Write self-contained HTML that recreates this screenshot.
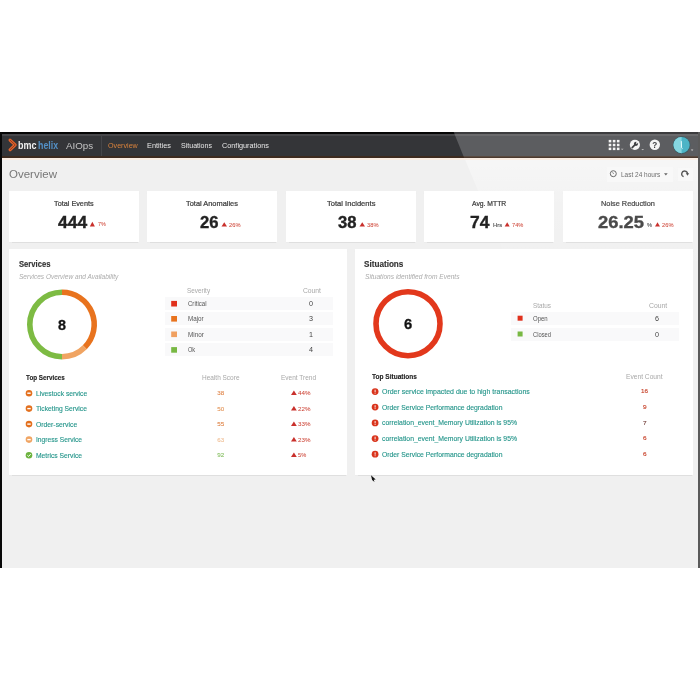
<!DOCTYPE html>
<html><head><meta charset="utf-8">
<style>
*{margin:0;padding:0;box-sizing:border-box}
html,body{width:700px;height:700px;background:#fff;overflow:hidden;position:relative;font-family:"Liberation Sans",sans-serif}
.r{position:absolute}
.t{position:absolute;white-space:nowrap;line-height:1;transform-origin:0 0}
</style></head><body>
<div id="w" style="position:absolute;left:0;top:0;width:700px;height:700px;filter:blur(0.35px)">
<div class="r" style="left:0px;top:132px;width:700px;height:436px;background:#f0f0f0;"></div>
<div class="r" style="left:0;top:157px;width:700px;height:120px;background:linear-gradient(to bottom,rgba(255,255,255,0.45),rgba(255,255,255,0.15) 40%,rgba(255,255,255,0) 100%);clip-path:polygon(464px 0,700px 0,700px 120px,514px 120px)"></div>
<div class="r" style="left:0px;top:132px;width:700px;height:2px;background:#050505;"></div>
<div class="r" style="left:0px;top:134px;width:700px;height:2px;background:#47474a;"></div>
<div class="r" style="left:0px;top:136px;width:700px;height:19.5px;background:#343538;"></div>
<div class="r" style="left:0px;top:155.5px;width:700px;height:2px;background:#3e2b1f;"></div>
<div class="r" style="left:0px;top:157.5px;width:700px;height:2.5px;background:#fbeee4;"></div>
<div class="r" style="left:0;top:132px;width:700px;height:25.5px;clip-path:polygon(453.7px 0,700px 0,700px 25.5px,464px 25.5px)"><div class="r" style="left:0;top:0;width:700px;height:2px;background:#3c3c3e"></div><div class="r" style="left:0;top:2px;width:700px;height:2px;background:#6a6a6c"></div><div class="r" style="left:0;top:4px;width:700px;height:19.5px;background:#5c5d60"></div><div class="r" style="left:0;top:23.5px;width:700px;height:2px;background:#5a4a40"></div></div>
<div class="r" style="left:0px;top:132px;width:2px;height:436px;background:#080808;"></div>
<div class="r" style="left:698px;top:132px;width:2px;height:436px;background:#5a5a5a;"></div>
<div class="t" style="left:18.30px;top:139.80px;font-size:10.6px;color:#f0f0f0;font-weight:bold;transform:scaleX(0.849);">bmc</div>
<div class="t" style="left:37.60px;top:139.80px;font-size:10.6px;color:#5390c6;font-weight:bold;transform:scaleX(0.832);">helix</div>
<div class="t" style="left:65.60px;top:140.60px;font-size:9.5px;color:#c4c4c4;transform:scaleX(1.030);">AIOps</div>
<div class="r" style="left:101px;top:136px;width:1px;height:19.5px;background:#454649;"></div>
<div class="t" style="left:107.90px;top:143.00px;font-size:6.5px;color:#d9823c;transform:scaleX(1.099);">Overview</div>
<div class="t" style="left:147.00px;top:143.00px;font-size:6.5px;color:#e6e6e6;transform:scaleX(1.126);">Entities</div>
<div class="t" style="left:181.00px;top:143.00px;font-size:6.5px;color:#e6e6e6;transform:scaleX(1.086);">Situations</div>
<div class="t" style="left:222.00px;top:143.00px;font-size:6.5px;color:#e6e6e6;transform:scaleX(1.121);">Configurations</div>
<div class="t" style="left:8.60px;top:169.40px;font-size:11.8px;color:#777777;transform:scaleX(0.975);">Overview</div>
<div class="r" style="left:606.5px;top:167.3px;width:66.5px;height:14.5px;background:#f8f8f8;"></div>
<div class="t" style="left:620.50px;top:171.50px;font-size:6.8px;color:#6e6e6e;transform:scaleX(0.954);">Last 24 hours</div>
<div class="r" style="left:677.7px;top:167.6px;width:15.2px;height:13.2px;background:#f8f8f8;"></div>
<div class="r" style="left:9px;top:191px;width:130px;height:51.3px;background:#ffffff;box-shadow:0 0.7px 0.8px rgba(0,0,0,0.07)"></div>
<div class="r" style="left:147.4px;top:191px;width:130px;height:51.3px;background:#ffffff;box-shadow:0 0.7px 0.8px rgba(0,0,0,0.07)"></div>
<div class="r" style="left:285.8px;top:191px;width:130px;height:51.3px;background:#ffffff;box-shadow:0 0.7px 0.8px rgba(0,0,0,0.07)"></div>
<div class="r" style="left:424.2px;top:191px;width:130px;height:51.3px;background:#ffffff;box-shadow:0 0.7px 0.8px rgba(0,0,0,0.07)"></div>
<div class="r" style="left:562.6px;top:191px;width:130px;height:51.3px;background:#ffffff;box-shadow:0 0.7px 0.8px rgba(0,0,0,0.07)"></div>
<div class="t" style="left:54.00px;top:199.80px;font-size:7.2px;color:#3c3c3c;-webkit-text-stroke:0.22px #3c3c3c;transform:scaleX(1.012);">Total Events</div>
<div class="t" style="left:57.80px;top:215.00px;font-size:16.8px;color:#222;font-weight:bold;transform:scaleX(1.038);-webkit-text-stroke:0.35px currentColor">444</div>
<div class="t" style="left:97.80px;top:221.40px;font-size:6.2px;color:#cf4a3c;transform:scaleX(0.871);-webkit-text-stroke:0.05px currentColor">7%</div>
<div class="t" style="left:186.20px;top:199.70px;font-size:7.2px;color:#3c3c3c;-webkit-text-stroke:0.22px #3c3c3c;transform:scaleX(1.031);">Total Anomalies</div>
<div class="t" style="left:200.00px;top:215.00px;font-size:16.8px;color:#222;font-weight:bold;transform:scaleX(0.990);-webkit-text-stroke:0.35px currentColor">26</div>
<div class="t" style="left:229.00px;top:221.50px;font-size:6.2px;color:#cf4a3c;transform:scaleX(0.927);-webkit-text-stroke:0.05px currentColor">26%</div>
<div class="t" style="left:327.00px;top:199.70px;font-size:7.2px;color:#3c3c3c;-webkit-text-stroke:0.22px #3c3c3c;transform:scaleX(1.054);">Total Incidents</div>
<div class="t" style="left:337.50px;top:215.00px;font-size:16.8px;color:#222;font-weight:bold;transform:scaleX(0.990);-webkit-text-stroke:0.35px currentColor">38</div>
<div class="t" style="left:367.00px;top:221.50px;font-size:6.2px;color:#cf4a3c;transform:scaleX(0.927);-webkit-text-stroke:0.05px currentColor">38%</div>
<div class="t" style="left:472.00px;top:199.70px;font-size:7.2px;color:#3c3c3c;-webkit-text-stroke:0.22px #3c3c3c;transform:scaleX(0.946);">Avg. MTTR</div>
<div class="t" style="left:470.40px;top:215.00px;font-size:16.8px;color:#222;font-weight:bold;transform:scaleX(1.038);-webkit-text-stroke:0.35px currentColor">74</div>
<div class="t" style="left:492.60px;top:222.50px;font-size:5.8px;color:#555;transform:scaleX(1.009);-webkit-text-stroke:0.15px currentColor">Hrs</div>
<div class="t" style="left:512.00px;top:221.50px;font-size:6.2px;color:#cf4a3c;transform:scaleX(0.919);-webkit-text-stroke:0.05px currentColor">74%</div>
<div class="t" style="left:601.00px;top:199.70px;font-size:7.2px;color:#4a4a4a;-webkit-text-stroke:0.22px #4a4a4a;transform:scaleX(1.022);">Noise Reduction</div>
<div class="t" style="left:598.00px;top:215.00px;font-size:16.8px;color:#4a4a4a;font-weight:bold;transform:scaleX(1.094);-webkit-text-stroke:0.35px currentColor">26.25</div>
<div class="t" style="left:647.00px;top:222.50px;font-size:5.8px;color:#666;transform:scaleX(0.970);-webkit-text-stroke:0.15px currentColor">%</div>
<div class="t" style="left:662.00px;top:221.50px;font-size:6.2px;color:#cf4a3c;transform:scaleX(0.927);-webkit-text-stroke:0.05px currentColor">26%</div>
<div class="r" style="left:8.6px;top:249px;width:338px;height:226.3px;background:#ffffff;box-shadow:0 0.7px 0.8px rgba(0,0,0,0.07)"></div>
<div class="r" style="left:355px;top:249px;width:337.5px;height:226.3px;background:#ffffff;box-shadow:0 0.7px 0.8px rgba(0,0,0,0.07)"></div>
<div class="t" style="left:18.70px;top:260.10px;font-size:8.6px;color:#333;font-weight:bold;transform:scaleX(0.890);-webkit-text-stroke:0.15px currentColor">Services</div>
<div class="t" style="left:19.00px;top:272.90px;font-size:7px;color:#ababab;font-style:italic;transform:scaleX(0.935);">Services Overview and Availability</div>
<div class="t" style="left:58.00px;top:317.00px;font-size:15px;color:#111;font-weight:bold;transform:scaleX(0.959);-webkit-text-stroke:0.3px currentColor">8</div>
<div class="t" style="left:187.20px;top:287.80px;font-size:6.6px;color:#a8a8a8;transform:scaleX(0.969);">Severity</div>
<div class="t" style="left:302.90px;top:287.80px;font-size:6.6px;color:#a8a8a8;transform:scaleX(1.022);">Count</div>
<div class="r" style="left:165px;top:296.9px;width:167.8px;height:13.2px;background:#f9f9fa;"></div>
<div class="t" style="left:187.50px;top:300.90px;font-size:6.5px;color:#555;transform:scaleX(0.931);">Critical</div>
<div class="t" style="left:308.60px;top:300.90px;font-size:6.4px;color:#444;transform:scaleX(1.124);">0</div>
<div class="r" style="left:165px;top:312px;width:167.8px;height:13.2px;background:#f9f9fa;"></div>
<div class="t" style="left:187.50px;top:316.00px;font-size:6.5px;color:#555;transform:scaleX(0.966);">Major</div>
<div class="t" style="left:308.60px;top:316.00px;font-size:6.4px;color:#444;transform:scaleX(1.124);">3</div>
<div class="r" style="left:165px;top:327.5px;width:167.8px;height:13.2px;background:#f9f9fa;"></div>
<div class="t" style="left:187.50px;top:331.50px;font-size:6.5px;color:#555;transform:scaleX(0.978);">Minor</div>
<div class="t" style="left:308.60px;top:331.50px;font-size:6.4px;color:#444;transform:scaleX(1.124);">1</div>
<div class="r" style="left:165px;top:343.1px;width:167.8px;height:13.2px;background:#f9f9fa;"></div>
<div class="t" style="left:187.50px;top:347.10px;font-size:6.5px;color:#555;transform:scaleX(0.865);">Ok</div>
<div class="t" style="left:308.60px;top:347.10px;font-size:6.4px;color:#444;transform:scaleX(1.124);">4</div>
<div class="t" style="left:26.00px;top:375.00px;font-size:6.8px;color:#222;font-weight:bold;transform:scaleX(0.928);-webkit-text-stroke:0.12px currentColor">Top Services</div>
<div class="t" style="left:201.80px;top:375.00px;font-size:6.8px;color:#a8a8a8;transform:scaleX(0.954);">Health Score</div>
<div class="t" style="left:281.00px;top:375.00px;font-size:6.8px;color:#a8a8a8;transform:scaleX(0.955);">Event Trend</div>
<div class="t" style="left:36.00px;top:390.60px;font-size:6.8px;color:#24958a;transform:scaleX(0.989);-webkit-text-stroke:0.12px currentColor">Livestock service</div>
<div class="t" style="left:217.20px;top:390.10px;font-size:6.2px;color:#e0884e;-webkit-text-stroke:0.12px currentColor">38</div>
<div class="t" style="left:298.10px;top:390.10px;font-size:6.2px;color:#cc4436;transform:scaleX(1.008);-webkit-text-stroke:0.04px currentColor">44%</div>
<div class="t" style="left:36.00px;top:406.00px;font-size:6.8px;color:#24958a;transform:scaleX(0.988);-webkit-text-stroke:0.12px currentColor">Ticketing Service</div>
<div class="t" style="left:217.20px;top:405.50px;font-size:6.2px;color:#e4985e;-webkit-text-stroke:0.12px currentColor">50</div>
<div class="t" style="left:298.10px;top:405.50px;font-size:6.2px;color:#cc4436;transform:scaleX(1.008);-webkit-text-stroke:0.04px currentColor">22%</div>
<div class="t" style="left:36.00px;top:421.50px;font-size:6.8px;color:#24958a;-webkit-text-stroke:0.12px currentColor">Order-service</div>
<div class="t" style="left:217.20px;top:421.00px;font-size:6.2px;color:#e0884e;-webkit-text-stroke:0.12px currentColor">55</div>
<div class="t" style="left:298.10px;top:421.00px;font-size:6.2px;color:#cc4436;transform:scaleX(1.008);-webkit-text-stroke:0.04px currentColor">33%</div>
<div class="t" style="left:36.00px;top:437.00px;font-size:6.8px;color:#24958a;transform:scaleX(0.982);-webkit-text-stroke:0.12px currentColor">Ingress Service</div>
<div class="t" style="left:217.20px;top:436.50px;font-size:6.2px;color:#f0c098;-webkit-text-stroke:0.12px currentColor">63</div>
<div class="t" style="left:298.10px;top:436.50px;font-size:6.2px;color:#cc4436;transform:scaleX(1.008);-webkit-text-stroke:0.04px currentColor">23%</div>
<div class="t" style="left:36.00px;top:452.60px;font-size:6.8px;color:#24958a;transform:scaleX(0.990);-webkit-text-stroke:0.12px currentColor">Metrics Service</div>
<div class="t" style="left:217.20px;top:452.10px;font-size:6.2px;color:#8cc26a;-webkit-text-stroke:0.12px currentColor">92</div>
<div class="t" style="left:298.10px;top:452.10px;font-size:6.2px;color:#cc4436;transform:scaleX(0.915);-webkit-text-stroke:0.04px currentColor">5%</div>
<div class="t" style="left:364.00px;top:260.10px;font-size:8.6px;color:#333;font-weight:bold;transform:scaleX(0.948);-webkit-text-stroke:0.15px currentColor">Situations</div>
<div class="t" style="left:364.50px;top:272.90px;font-size:7px;color:#ababab;font-style:italic;transform:scaleX(0.945);">Situations identified from Events</div>
<div class="t" style="left:403.80px;top:316.20px;font-size:15px;color:#111;font-weight:bold;transform:scaleX(0.983);-webkit-text-stroke:0.3px currentColor">6</div>
<div class="t" style="left:532.70px;top:302.50px;font-size:6.6px;color:#a8a8a8;transform:scaleX(0.962);">Status</div>
<div class="t" style="left:648.90px;top:302.50px;font-size:6.6px;color:#a8a8a8;transform:scaleX(1.034);">Count</div>
<div class="r" style="left:511px;top:311.7px;width:168.2px;height:13px;background:#f9f9fa;"></div>
<div class="t" style="left:533.00px;top:315.70px;font-size:6.5px;color:#555;transform:scaleX(0.925);">Open</div>
<div class="t" style="left:654.60px;top:315.90px;font-size:6.4px;color:#444;transform:scaleX(1.124);">6</div>
<div class="r" style="left:511px;top:327.5px;width:168.2px;height:13px;background:#f9f9fa;"></div>
<div class="t" style="left:533.00px;top:331.50px;font-size:6.5px;color:#555;transform:scaleX(0.890);">Closed</div>
<div class="t" style="left:654.60px;top:331.70px;font-size:6.4px;color:#444;transform:scaleX(1.124);">0</div>
<div class="t" style="left:371.60px;top:374.00px;font-size:6.8px;color:#222;font-weight:bold;transform:scaleX(0.963);-webkit-text-stroke:0.12px currentColor">Top Situations</div>
<div class="t" style="left:625.70px;top:374.00px;font-size:6.8px;color:#a8a8a8;transform:scaleX(0.978);">Event Count</div>
<div class="t" style="left:381.90px;top:389.00px;font-size:6.8px;color:#24958a;transform:scaleX(1.024);-webkit-text-stroke:0.12px currentColor">Order service impacted due to high transactions</div>
<div class="t" style="left:641.00px;top:388.20px;font-size:6.2px;color:#c8442c;transform:scaleX(1.015);-webkit-text-stroke:0.15px currentColor">16</div>
<div class="t" style="left:381.90px;top:404.50px;font-size:6.8px;color:#24958a;-webkit-text-stroke:0.12px currentColor">Order Service Performance degradation</div>
<div class="t" style="left:642.70px;top:403.70px;font-size:6.2px;color:#c8442c;transform:scaleX(1.044);-webkit-text-stroke:0.15px currentColor">9</div>
<div class="t" style="left:381.90px;top:420.30px;font-size:6.8px;color:#24958a;transform:scaleX(1.007);-webkit-text-stroke:0.12px currentColor">correlation_event_Memory Utilization is 95%</div>
<div class="t" style="left:642.70px;top:419.50px;font-size:6.2px;color:#7a4a44;transform:scaleX(1.044);-webkit-text-stroke:0.15px currentColor">7</div>
<div class="t" style="left:381.90px;top:436.00px;font-size:6.8px;color:#24958a;transform:scaleX(1.007);-webkit-text-stroke:0.12px currentColor">correlation_event_Memory Utilization is 95%</div>
<div class="t" style="left:642.70px;top:435.20px;font-size:6.2px;color:#c8442c;transform:scaleX(1.044);-webkit-text-stroke:0.15px currentColor">6</div>
<div class="t" style="left:381.90px;top:451.60px;font-size:6.8px;color:#24958a;-webkit-text-stroke:0.12px currentColor">Order Service Performance degradation</div>
<div class="t" style="left:642.70px;top:450.80px;font-size:6.2px;color:#c8442c;transform:scaleX(1.044);-webkit-text-stroke:0.15px currentColor">6</div>
<svg class="r" style="left:0;top:0" width="700" height="700"><g transform="translate(8.00,138.50)"><path d="M2 1.6 L7.2 6.45 L2 11.3" fill="none" stroke="#e2622a" stroke-width="3" stroke-linejoin="round" stroke-linecap="round"/><path d="M2 1.6 L7.2 6.45 L2 11.3" fill="none" stroke="#8a3a1e" stroke-width="0.9" stroke-linejoin="miter"/></g><rect x="608.70" y="139.90" width="2.6" height="2.5" fill="#f4f4f4"/><rect x="608.70" y="143.75" width="2.6" height="2.5" fill="#f4f4f4"/><rect x="608.70" y="147.60" width="2.6" height="2.5" fill="#f4f4f4"/><rect x="612.80" y="139.90" width="2.6" height="2.5" fill="#f4f4f4"/><rect x="612.80" y="143.75" width="2.6" height="2.5" fill="#f4f4f4"/><rect x="612.80" y="147.60" width="2.6" height="2.5" fill="#f4f4f4"/><rect x="616.90" y="139.90" width="2.6" height="2.5" fill="#f4f4f4"/><rect x="616.90" y="143.75" width="2.6" height="2.5" fill="#f4f4f4"/><rect x="616.90" y="147.60" width="2.6" height="2.5" fill="#f4f4f4"/><polygon points="620.80,148.80 623.60,148.80 622.20,150.00" fill="#bdbdbd"/><polygon points="641.30,149.00 644.10,149.00 642.70,150.20" fill="#bdbdbd"/><polygon points="690.80,149.50 693.40,149.50 692.10,150.90" fill="#d0d0d0"/><g transform="translate(629.70,139.70)"><circle cx="5.2" cy="5.1" r="5.1" fill="#f4f4f4"/><path d="M2.5 7.9 L5.4 5.0" stroke="#3e3f42" stroke-width="1.7" stroke-linecap="round"/><circle cx="6.3" cy="4.1" r="2.1" fill="#3e3f42"/><path d="M6.6 3.8 L8.6 1.6" stroke="#f4f4f4" stroke-width="1.3"/></g><g transform="translate(649.70,139.60)"><circle cx="5.1" cy="5.2" r="5.2" fill="#f4f4f4"/><text x="5.1" y="8.1" text-anchor="middle" font-family="Liberation Sans" font-weight="bold" font-size="8.2" fill="#3e3f42">?</text></g><g transform="translate(672.80,136.30)"><circle cx="8.8" cy="8.8" r="8.8" fill="#3a5a60"/><circle cx="8.8" cy="8.8" r="8.1" fill="#4cb4c6"/><path d="M8.8 0.7 A8.1 8.1 0 0 0 8.8 16.9 Z" fill="#86d6e0"/><path d="M8.5 4.8 L8.8 11.5 L9.8 12.4" fill="none" stroke="#e4fafc" stroke-width="1"/></g><g transform="translate(609.30,169.70)"><circle cx="4" cy="4" r="3" fill="none" stroke="#6a6a6a" stroke-width="1"/><path d="M3.3 2.6 L4.3 4.2" fill="none" stroke="#6a6a6a" stroke-width="0.8"/></g><polygon points="664.00,173.30 667.70,173.30 665.85,175.50" fill="#666"/><path d="M683.61 176.63 A2.9 2.9 0 1 1 687.50 173.90" fill="none" stroke="#555" stroke-width="1.3"/><polygon points="685.80,173.30 689.20,173.30 687.50,175.70" fill="#555"/><polygon points="89.80,226.40 92.35,221.80 94.90,226.40" fill="#c9302c"/><polygon points="221.50,226.50 224.25,222.30 227.00,226.50" fill="#c9302c"/><polygon points="359.50,226.50 362.25,222.30 365.00,226.50" fill="#c9302c"/><polygon points="504.70,226.50 507.20,222.30 509.70,226.50" fill="#c9302c"/><polygon points="655.00,226.50 657.50,222.30 660.00,226.50" fill="#c9302c"/><path d="M62.00 292.30 A32.2 32.2 0 0 1 84.77 347.27" fill="none" stroke="#e8731e" stroke-width="5.6"/><path d="M84.77 347.27 A32.2 32.2 0 0 1 62.00 356.70" fill="none" stroke="#f0a462" stroke-width="5.6"/><path d="M62.00 356.70 A32.2 32.2 0 0 1 62.00 292.30" fill="none" stroke="#7dbb43" stroke-width="5.6"/><rect x="171.2" y="300.90" width="5.8" height="5.6" fill="#e0301c"/><rect x="171.2" y="316.00" width="5.8" height="5.6" fill="#e8731e"/><rect x="171.2" y="331.50" width="5.8" height="5.6" fill="#f0a060"/><rect x="171.2" y="347.10" width="5.8" height="5.6" fill="#78b843"/><g transform="translate(25.70,389.90)"><circle cx="3.3" cy="3.3" r="3.3" fill="#e3701e"/><rect x="1.6" y="2.6" width="3.4" height="1.4" fill="#fff"/></g><polygon points="291.00,395.10 293.90,390.50 296.80,395.10" fill="#c9302c"/><g transform="translate(25.70,405.30)"><circle cx="3.3" cy="3.3" r="3.3" fill="#e3701e"/><rect x="1.6" y="2.6" width="3.4" height="1.4" fill="#fff"/></g><polygon points="291.00,410.50 293.90,405.90 296.80,410.50" fill="#c9302c"/><g transform="translate(25.70,420.80)"><circle cx="3.3" cy="3.3" r="3.3" fill="#e3701e"/><rect x="1.6" y="2.6" width="3.4" height="1.4" fill="#fff"/></g><polygon points="291.00,426.00 293.90,421.40 296.80,426.00" fill="#c9302c"/><g transform="translate(25.70,436.30)"><circle cx="3.3" cy="3.3" r="3.3" fill="#f0a462"/><rect x="1.6" y="2.6" width="3.4" height="1.4" fill="#fff"/></g><polygon points="291.00,441.50 293.90,436.90 296.80,441.50" fill="#c9302c"/><g transform="translate(25.70,451.90)"><circle cx="3.3" cy="3.3" r="3.3" fill="#6cb33e"/><path d="M1.7 3.4 L2.9 4.5 L5 2.2" fill="none" stroke="#fff" stroke-width="1"/></g><polygon points="291.00,457.10 293.90,452.50 296.80,457.10" fill="#c9302c"/><circle cx="408" cy="323.7" r="32" fill="none" stroke="#e2381c" stroke-width="5.6"/><rect x="517.6" y="315.70" width="5" height="5" fill="#e0301c"/><rect x="517.6" y="331.50" width="5" height="5" fill="#78b843"/><g transform="translate(371.70,388.20)"><circle cx="3.4" cy="3.4" r="3.4" fill="#d9341c"/><rect x="2.95" y="1.5" width="0.9" height="2.4" fill="#fff"/><rect x="2.95" y="4.5" width="0.9" height="0.9" fill="#fff"/></g><g transform="translate(371.70,403.70)"><circle cx="3.4" cy="3.4" r="3.4" fill="#d9341c"/><rect x="2.95" y="1.5" width="0.9" height="2.4" fill="#fff"/><rect x="2.95" y="4.5" width="0.9" height="0.9" fill="#fff"/></g><g transform="translate(371.70,419.50)"><circle cx="3.4" cy="3.4" r="3.4" fill="#d9341c"/><rect x="2.95" y="1.5" width="0.9" height="2.4" fill="#fff"/><rect x="2.95" y="4.5" width="0.9" height="0.9" fill="#fff"/></g><g transform="translate(371.70,435.20)"><circle cx="3.4" cy="3.4" r="3.4" fill="#d9341c"/><rect x="2.95" y="1.5" width="0.9" height="2.4" fill="#fff"/><rect x="2.95" y="4.5" width="0.9" height="0.9" fill="#fff"/></g><g transform="translate(371.70,450.80)"><circle cx="3.4" cy="3.4" r="3.4" fill="#d9341c"/><rect x="2.95" y="1.5" width="0.9" height="2.4" fill="#fff"/><rect x="2.95" y="4.5" width="0.9" height="0.9" fill="#fff"/></g><g transform="translate(370.50,475.00)"><path d="M0.5 0.3 L5.2 4.6 L3.2 4.8 L4 7 L1.6 4.9 Z" fill="#111"/></g></svg>
</div></body></html>
